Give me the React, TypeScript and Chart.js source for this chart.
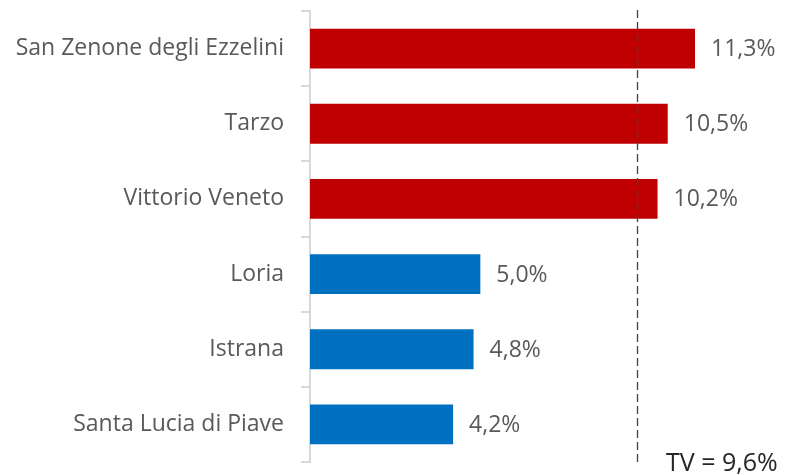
import React, { useEffect, useRef } from "react";
import { Chart, registerables } from "chart.js";

Chart.register(...registerables);

const categories = [
  "San Zenone degli Ezzelini",
  "Tarzo",
  "Vittorio Veneto",
  "Loria",
  "Istrana",
  "Santa Lucia di Piave",
];
const values = [11.3, 10.5, 10.2, 5.0, 4.8, 4.2];
const barColors = ["#C00000", "#C00000", "#C00000", "#0070C0", "#0070C0", "#0070C0"];
const tvValue = 9.6;
const tvLabel = "TV = 9,6%";

const fmt = (v: number) => v.toFixed(1).replace(".", ",") + "%";

const FONT = "'Open Sans', sans-serif";

export default function App() {
  const ref = useRef<HTMLCanvasElement | null>(null);
  useEffect(() => {
    if (!ref.current) return;
    const overlay = {
      id: "overlay",
      afterDatasetsDraw(chart: any) {
        const { ctx, chartArea } = chart;
        const meta = chart.getDatasetMeta(0);
        ctx.save();
        ctx.font = `23px ${FONT}`;
        ctx.fillStyle = "#595959";
        ctx.textAlign = "left";
        ctx.textBaseline = "middle";
        meta.data.forEach((bar: any, i: number) => {
          ctx.fillText(fmt(values[i]), bar.x + 16, bar.y + 1);
        });
        const x = Math.round(chart.scales.x.getPixelForValue(tvValue)) + 0.5;
        ctx.strokeStyle = "#404040";
        ctx.lineWidth = 1.3;
        ctx.setLineDash([8, 4]);
        ctx.beginPath();
        ctx.moveTo(x, chartArea.top - 1);
        ctx.lineTo(x, chartArea.bottom + 3);
        ctx.stroke();
        ctx.setLineDash([]);
        ctx.font = `25px ${FONT}`;
        ctx.fillStyle = "#262626";
        ctx.textAlign = "left";
        ctx.textBaseline = "alphabetic";
        ctx.fillText(tvLabel, 666, 471);
        ctx.restore();
      },
    };
    const chart = new Chart(ref.current, {
      type: "bar",
      data: {
        labels: categories,
        datasets: [
          {
            data: values,
            backgroundColor: barColors,
            barPercentage: 0.53,
            categoryPercentage: 1,
          },
        ],
      },
      options: {
        indexAxis: "y",
        animation: false,
        responsive: false,
        maintainAspectRatio: false,
        layout: { padding: { top: 11, bottom: 13, left: 0, right: 0 } },
        plugins: { legend: { display: false }, tooltip: { enabled: false } },
        scales: {
          x: { display: false, min: 0, max: 14 },
          y: {
            afterFit(scale: any) {
              scale.width = 310;
              scale.paddingTop = 0;
              scale.paddingBottom = 0;
            },
            grid: {
              drawOnChartArea: false,
              drawTicks: true,
              tickLength: 9,
              color: "#d9d9d9",
              lineWidth: 2,
              offset: true,
            },
            border: { display: true, color: "#d9d9d9", width: 2 },
            ticks: {
              color: "#595959",
              font: { family: FONT, size: 23 },
              padding: 17,
            },
          },
        },
      },
      plugins: [overlay],
    });
    return () => chart.destroy();
  }, []);
  return (
    <div style={{ position: "fixed", left: 0, top: 0, width: 787, height: 475, background: "#fff" }}>
      <canvas ref={ref} width={787} height={475} style={{ width: 787, height: 475 }} />
    </div>
  );
}
